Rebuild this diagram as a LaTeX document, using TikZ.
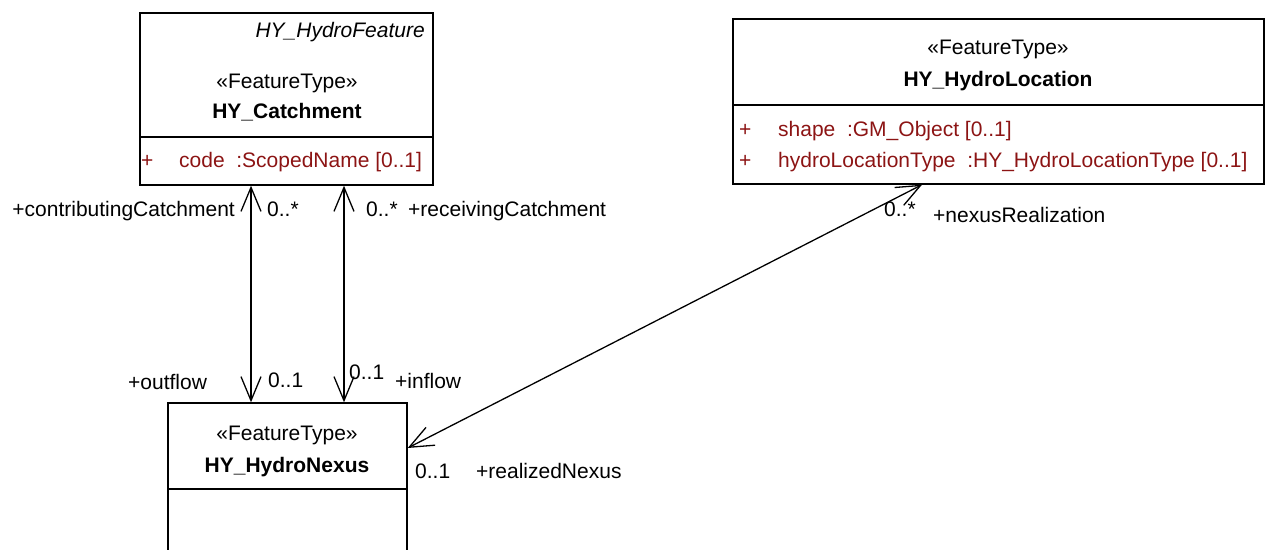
\documentclass[tikz,border=0pt]{standalone}
\usepackage{fontspec}
\setmainfont{Liberation Sans}
\usetikzlibrary{arrows.meta}
\definecolor{attrred}{RGB}{140,20,20}

\begin{document}
\begin{tikzpicture}[x=1pt, y=-1pt,
	every node/.style={font=\fontsize{21}{25}\selectfont, inner sep=0pt},
	classbox/.style={draw, line width=1.4pt, inner sep=0pt},
	divider/.style={line width=1.4pt},
	stereo/.style={anchor=base},
	classname/.style={anchor=base, font=\fontsize{21}{25}\selectfont\bfseries},
	attr/.style={anchor=base west, text=attrred},
	lbl/.style={anchor=base west},
	assoc/.style={line width=1.3pt, {Straight Barb[length=24pt,width=20pt]}-{Straight Barb[length=24pt,width=20pt]}}]
	\useasboundingbox (0,0) rectangle (1268,549);
	\clip (0,0) rectangle (1268,549);
	% class boxes
	\node[classbox, minimum width=293pt, minimum height=172pt] (catch) at (286.5,99) {};
	\node[classbox, minimum width=531pt, minimum height=165pt] (loc) at (998.5,101.5) {};
	\node[classbox, minimum width=239pt, minimum height=170pt] (nexus) at (287.5,488) {};
	% compartment lines
	\coordinate (catchdiv) at (0,137);
	\coordinate (locdiv) at (0,105);
	\coordinate (nexusdiv) at (0,489);
	\draw[divider] (catch.west |- catchdiv) -- (catch.east |- catchdiv);
	\draw[divider] (loc.west |- locdiv) -- (loc.east |- locdiv);
	\draw[divider] (nexus.west |- nexusdiv) -- (nexus.east |- nexusdiv);
	% HY_Catchment
	\node[anchor=base east, font=\fontsize{21}{25}\selectfont\itshape] (catchsuper) at (425,37) {HY\_HydroFeature};
	\node[stereo] (catchst) at (287,88) {«FeatureType»};
	\node[classname] (catchname) at (287,118) {HY\_Catchment};
	\node[attr] (catchplus) at (141,167) {+};
	\node[attr] (catchcode) at (179,167) {code\ \ :ScopedName [0..1]};
	% HY_HydroLocation
	\node[stereo] (locst) at (998,54) {«FeatureType»};
	\node[classname] (locname) at (998,86) {HY\_HydroLocation};
	\node[attr] (locplus1) at (739,136) {+};
	\node[attr] (locshape) at (778,136) {shape\ \ :GM\_Object [0..1]};
	\node[attr] (locplus2) at (739,167) {+};
	\node[attr] (loctype) at (778,167) {hydroLocationType\ \ :HY\_HydroLocationType [0..1]};
	% HY_HydroNexus
	\node[stereo] (nexusst) at (287,440) {«FeatureType»};
	\node[classname] (nexusname) at (287,472) {HY\_HydroNexus};
	% associations
	\coordinate (outx) at (251,0);
	\coordinate (inx) at (344,0);
	\coordinate (realy) at (0,448);
	\coordinate (realx) at (922,0);
	\draw[assoc] (catch.south -| outx) -- (nexus.north -| outx);
	\draw[assoc] (catch.south -| inx) -- (nexus.north -| inx);
	\draw[assoc] (nexus.east |- realy) -- (loc.south -| realx);
	% role names and multiplicities
	\node[anchor=base east] (contrib) at (235,216) {+contributingCatchment};
	\node[lbl] (contribm) at (267,216) {0..*};
	\node[lbl] (recvm) at (366,216) {0..*};
	\node[lbl] (recv) at (408,216) {+receivingCatchment};
	\node[lbl] (outfl) at (128,389) {+outflow};
	\node[lbl] (outm) at (268,387) {0..1};
	\node[lbl] (inm) at (349,379) {0..1};
	\node[lbl] (infl) at (395,388) {+inflow};
	\node[lbl] (realm) at (884,216) {0..*};
	\node[lbl] (realize) at (933,222) {+nexusRealization};
	\node[lbl] (nexm) at (415,478) {0..1};
	\node[lbl] (nexr) at (476,478) {+realizedNexus};
\end{tikzpicture}
\end{document}
